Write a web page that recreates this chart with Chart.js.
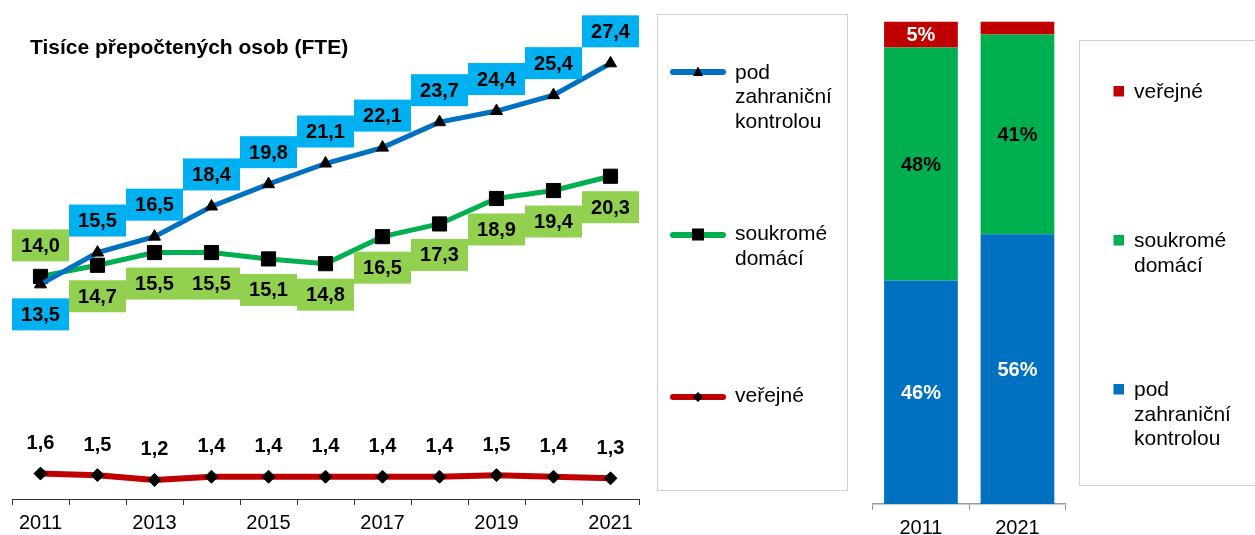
<!DOCTYPE html>
<html><head><meta charset="utf-8">
<script src="https://cdn.jsdelivr.net/npm/chart.js@4"></script>
<style>
html,body{margin:0;padding:0;width:1255px;height:535px;overflow:hidden;background:#fff;font-family:"Liberation Sans",Arial,sans-serif;}
#c1{position:absolute;left:0;top:0;}
#c2{position:absolute;left:860px;top:0;}
.title{position:absolute;left:30px;top:35px;font-weight:bold;font-size:21px;line-height:24px;color:#000;white-space:nowrap;}
.legbox{position:absolute;border:1.5px solid #d0d0d0;box-sizing:border-box;background:#fff;}
.lt{position:absolute;font-size:21px;line-height:24.6px;color:#000;white-space:nowrap;}
svg{position:absolute;left:0;top:0;}
</style></head>
<body>
<canvas id="c1" width="650" height="541"></canvas>
<canvas id="c2" width="215" height="547"></canvas>
<div class="title" id="title"></div>
<div class="legbox" style="left:657px;top:14px;width:191px;height:477px;"></div>
<div class="legbox" style="left:1079px;top:40px;width:190px;height:446px;"></div>
<svg id="legsvg" width="1255" height="535"></svg>
<div id="legtext"></div>
<script>
// ---------- data ----------
const titleText = 'Tisíce přepočtených osob (FTE)';
const years = ['2011','2012','2013','2014','2015','2016','2017','2018','2019','2020','2021'];
const tickLabels = ['2011','','2013','','2015','','2017','','2019','','2021'];
const foreign = [13.5,15.5,16.5,18.4,19.8,21.1,22.1,23.7,24.4,25.4,27.4];
const domestic = [14.0,14.7,15.5,15.5,15.1,14.8,16.5,17.3,18.9,19.4,20.3];
const publicSector = [1.6,1.5,1.2,1.4,1.4,1.4,1.4,1.4,1.5,1.4,1.3];
const seriesNames = ['pod zahraniční kontrolou','soukromé domácí','veřejné'];
const legendLines = [['pod','zahraniční','kontrolou'],['soukromé','domácí'],['veřejné']];
const shareYears = ['2011','2021'];
const shareForeign = [46.3, 55.9];
const shareDomestic = [48.3, 41.4];
const sharePublic = [5.4, 2.7];

// ---------- styles ----------
const FONT = '"Liberation Sans", Arial, sans-serif';
const C_BLUE = '#0070C0', C_GREEN = '#00B050', C_RED = '#C00000';
const BOX_BLUE = '#00B0F0', BOX_GREEN = '#92D050';

document.getElementById('title').textContent = titleText;

const fmt = v => v.toFixed(1).replace('.', ',');

// label rules per dataset index: box colour and vertical offset of label centre
const labelRules = [
  {box: BOX_BLUE, off: i => (i === 0 ? 30 : -32)},
  {box: BOX_GREEN, off: i => (i === 0 ? -31 : 31)},
  {box: null, off: i => -31}
];

const valueBoxes = {
  id: 'valueBoxes',
  afterDatasetsDraw(chart) {
    const ctx = chart.ctx;
    const xs = chart.scales.x;
    const cw = (xs.right - xs.left) / chart.data.labels.length;
    const bh = 32;
    ctx.save();
    ctx.font = 'bold 20px ' + FONT;
    ctx.textAlign = 'center';
    ctx.textBaseline = 'middle';
    chart.data.datasets.forEach((ds, di) => {
      const meta = chart.getDatasetMeta(di);
      const rule = labelRules[di];
      meta.data.forEach((pt, i) => {
        const cy = pt.y + rule.off(i);
        if (rule.box) {
          ctx.fillStyle = rule.box;
          ctx.fillRect(pt.x - cw / 2, cy - bh / 2, cw, bh);
        }
        ctx.fillStyle = '#000';
        ctx.fillText(fmt(ds.data[i]), pt.x, cy + 1);
      });
    });
    ctx.restore();
  }
};

new Chart(document.getElementById('c1'), {
  type: 'line',
  data: {
    labels: years,
    datasets: [
      {label: seriesNames[0], data: foreign, borderColor: C_BLUE, borderWidth: 5,
       pointStyle: 'triangle', pointRadius: 7, pointBackgroundColor: '#000', pointBorderColor: '#000', pointBorderWidth: 1},
      {label: seriesNames[1], data: domestic, borderColor: C_GREEN, borderWidth: 5,
       pointStyle: 'rect', pointRadius: 10, pointBackgroundColor: '#000', pointBorderColor: '#000', pointBorderWidth: 1},
      {label: seriesNames[2], data: publicSector, borderColor: C_RED, borderWidth: 6,
       pointStyle: 'rectRot', pointRadius: 6.5, pointBackgroundColor: '#000', pointBorderColor: '#000', pointBorderWidth: 1}
    ]
  },
  options: {
    responsive: false, animation: false,
    layout: {padding: {left: 12, right: 10, top: 22, bottom: 0}},
    plugins: {legend: {display: false}, tooltip: {enabled: false}, title: {display: false}},
    elements: {line: {tension: 0}},
    scales: {
      x: {
        type: 'category', offset: true,
        grid: {display: true, drawOnChartArea: false, drawTicks: true, tickLength: 6, color: '#333', offset: true},
        border: {display: true, color: '#333', width: 1},
        ticks: {autoSkip: false, maxRotation: 0, minRotation: 0, padding: 6, color: '#000',
                font: {family: FONT, size: 20}, callback: (v, i) => tickLabels[i]}
      },
      y: {display: false, min: 0, max: 30}
    }
  },
  plugins: [valueBoxes]
});

const shareColors = ['#fff', '#000', '#fff'];
const barLabels = {
  id: 'barLabels',
  afterDatasetsDraw(chart) {
    const ctx = chart.ctx;
    ctx.save();
    ctx.font = 'bold 20px ' + FONT;
    ctx.textAlign = 'center';
    ctx.textBaseline = 'middle';
    chart.data.datasets.forEach((ds, di) => {
      const meta = chart.getDatasetMeta(di);
      meta.data.forEach((el, i) => {
        const v = ds.data[i];
        if (v < 4) return;
        ctx.fillStyle = shareColors[di];
        ctx.fillText(Math.round(v) + '%', el.x, (el.y + el.base) / 2 + 1);
      });
    });
    ctx.restore();
  }
};

new Chart(document.getElementById('c2'), {
  type: 'bar',
  data: {
    labels: shareYears,
    datasets: [
      {label: seriesNames[0], data: shareForeign, backgroundColor: C_BLUE},
      {label: seriesNames[1], data: shareDomestic, backgroundColor: C_GREEN},
      {label: seriesNames[2], data: sharePublic, backgroundColor: C_RED}
    ]
  },
  options: {
    responsive: false, animation: false,
    layout: {padding: {left: 12.7, right: 9.3, top: 21.5, bottom: 0}},
    plugins: {legend: {display: false}, tooltip: {enabled: false}},
    datasets: {bar: {categoryPercentage: 1, barPercentage: 0.764, borderWidth: 0}},
    scales: {
      x: {
        stacked: true, offset: true,
        grid: {display: true, drawOnChartArea: false, drawTicks: true, tickLength: 6, color: '#999', offset: true},
        border: {display: true, color: '#999', width: 1.5},
        ticks: {maxRotation: 0, minRotation: 0, padding: 6.5, color: '#000', font: {family: FONT, size: 20}}
      },
      y: {display: false, stacked: true, min: 0, max: 100}
    }
  },
  plugins: [barLabels]
});

// ---------- legends ----------
const svg = document.getElementById('legsvg');
const NS = 'http://www.w3.org/2000/svg';
function el(tag, attrs) { const e = document.createElementNS(NS, tag); for (const k in attrs) e.setAttribute(k, attrs[k]); svg.appendChild(e); return e; }
const lineCols = [C_BLUE, C_GREEN, C_RED];
const leg1 = [{y: 72, top: 59.5}, {y: 235, top: 221}, {y: 397, top: 383}];
const legText = document.getElementById('legtext');
leg1.forEach((p, i) => {
  el('line', {x1: 673, y1: p.y, x2: 723, y2: p.y, stroke: lineCols[i], 'stroke-width': 6, 'stroke-linecap': 'round'});
  const cx = 698;
  if (i === 0) el('polygon', {points: `${cx},${p.y-5.5} ${cx-5},${p.y+4} ${cx+5},${p.y+4}`, fill: '#000'});
  if (i === 1) el('rect', {x: cx - 6, y: p.y - 6.5, width: 12, height: 12, fill: '#000'});
  if (i === 2) el('polygon', {points: `${cx},${p.y-5} ${cx+5},${p.y} ${cx},${p.y+5} ${cx-5},${p.y}`, fill: '#000'});
  const d = document.createElement('div');
  d.className = 'lt'; d.style.left = '735px'; d.style.top = p.top + 'px';
  d.innerHTML = legendLines[i].join('<br>');
  legText.appendChild(d);
});
// legend 2 (bar chart): top to bottom = red, green, blue
const leg2 = [{si: 2, sq: 86, top: 78.5}, {si: 1, sq: 235, top: 228}, {si: 0, sq: 384, top: 377}];
leg2.forEach(p => {
  el('rect', {x: 1113.5, y: p.sq, width: 10.5, height: 10.5, fill: lineCols[p.si]});
  const d = document.createElement('div');
  d.className = 'lt'; d.style.left = '1134px'; d.style.top = p.top + 'px';
  d.innerHTML = legendLines[p.si].join('<br>');
  legText.appendChild(d);
});
</script>
</body></html>
